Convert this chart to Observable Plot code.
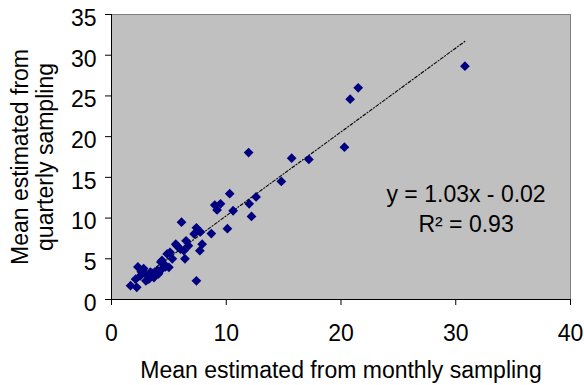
<!DOCTYPE html>
<html>
<head>
<meta charset="utf-8">
<script src="https://cdn.jsdelivr.net/npm/d3@7"></script>
<script src="https://cdn.jsdelivr.net/npm/@observablehq/plot@0.6"></script>
<style>
  html, body { margin: 0; padding: 0; background: #fff; }
</style>
</head>
<body>
<div id="chart"></div>
<script>
// Data
const monthly = [
  30.8, 21.5, 20.8, 20.3, 11.95, 15.7, 17.2, 14.8, 12.6, 12.0,
  10.3, 10.6, 12.2, 10.1, 9.0, 9.5, 9.2, 8.7, 6.1, 7.4,
  7.75, 7.2, 7.9, 7.7, 6.4, 7.4, 6.5, 6.7, 5.6, 6.0,
  6.3, 5.1, 4.85, 5.3, 4.55, 5.0, 4.4, 4.7, 4.4, 4.0,
  4.1, 3.7, 3.4, 3.25, 2.96, 2.8, 2.3, 2.5, 2.1, 2.2,
  1.66, 3.0, 5.7, 4.3, 3.6, 2.6
];
const quarterly = [
  28.65, 26.0, 24.6, 18.7, 18.05, 17.35, 17.2, 14.5, 12.6, 11.75,
  13.0, 10.9, 10.2, 8.7, 11.6, 11.75, 11.0, 8.1, 9.5, 8.8,
  8.3, 8.05, 6.8, 6.0, 5.0, 2.3, 7.2, 6.6, 6.8, 6.2,
  6.0, 5.8, 5.6, 5.0, 4.4, 3.95, 3.75, 4.0, 4.8, 3.6,
  3.15, 2.7, 3.35, 2.5, 3.15, 3.8, 4.0, 2.9, 2.5, 1.5,
  1.7, 2.3, 6.6, 4.6, 3.2, 3.4
];
const xTicks = [0, 10, 20, 30, 40];
const yTicks = [0, 5, 10, 15, 20, 25, 30, 35];
const trendSlope = 1.03;
const trendIntercept = -0.02;
const equationText = "y = 1.03x - 0.02";
const r2Text = "R\u00B2 = 0.93";
const xTitle = "Mean estimated from monthly sampling";
const yTitle = "Mean estimated from\nquarterly sampling";

const points = monthly.map((m, i) => ({x: m, y: quarterly[i]}));
const xMin = d3.min(monthly), xMax = d3.max(monthly);
const trend = [xMin, xMax].map(x => ({x, y: trendSlope * x + trendIntercept}));

const font = "Liberation Sans, Arial, sans-serif";
const fs = 23;

const chart = Plot.plot({
  width: 584,
  height: 385,
  marginLeft: 111,
  marginRight: 14,
  marginTop: 14,
  marginBottom: 86,
  style: {fontFamily: font, fontSize: fs + "px", background: "#fff", color: "#000"},
  x: {domain: [0, 40], label: null},
  y: {domain: [0, 35], label: null},
  marks: [
    Plot.frame({fill: "#c0c0c0", stroke: "#808080"}),
    Plot.ruleX([0], {stroke: "#000"}),
    Plot.ruleY([0], {stroke: "#000"}),
    // ticks only
    Plot.axisX({ticks: xTicks, tickSize: 6, fill: "none", label: null, stroke: "#000"}),
    Plot.axisY({ticks: yTicks, tickSize: 6, fill: "none", label: null, stroke: "#000"}),
    // tick labels only
    Plot.axisX({ticks: xTicks, tickSize: 0, tickPadding: 25, fontSize: fs, fill: "#000", label: null}),
    Plot.axisY({ticks: yTicks, tickSize: 0, tickPadding: 15, dy: 4, fontSize: fs, fill: "#000", label: null}),
    Plot.line(trend, {x: "x", y: "y", stroke: "#000", strokeWidth: 1.1, strokeDasharray: "3,2,1,2"}),
    Plot.dot(points, {x: "x", y: "y", symbol: "diamond2", r: 4.4, fill: "#000080", stroke: "none"}),
    Plot.text([equationText], {x: 30.9, y: 12.9, text: d => d, fontSize: fs, fill: "#000"}),
    Plot.text([r2Text], {x: 30.9, y: 9.2, text: d => d, fontSize: fs, fill: "#000"}),
    Plot.text([xTitle], {frameAnchor: "bottom", textAnchor: "middle", dy: 78, text: d => d, fontSize: fs, fill: "#000", lineAnchor: "bottom"}),
    Plot.text([yTitle], {frameAnchor: "left", textAnchor: "middle", dx: -79, rotate: -90, text: d => d, fontSize: fs, fill: "#000", lineAnchor: "middle", lineHeight: 1.1})
  ]
});
document.getElementById("chart").appendChild(chart);
</script>
</body>
</html>
